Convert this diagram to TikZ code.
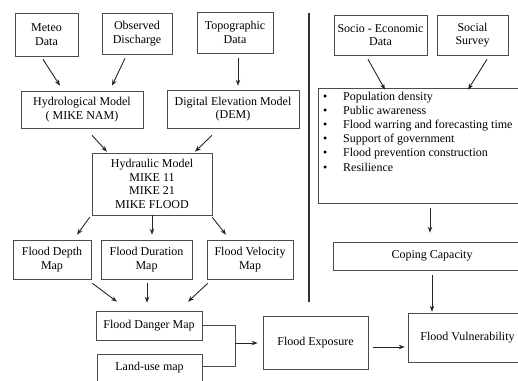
\documentclass[tikz,border=0pt]{standalone}
\usepackage{fontspec}
\setmainfont{Liberation Serif}
\usetikzlibrary{arrows.meta}

\tikzset{
	box/.style={draw=black!70, line width=0.6pt, align=center, inner sep=1pt, font=\fontsize{12}{13.7}\selectfont},
	link/.style={-{Stealth[length=6pt,width=4.5pt]}, line width=0.9pt, black!85},
}
\newcommand{\bulletitem}[1]{\makebox[20pt][l]{\textbullet}#1}

\begin{document}
\begin{tikzpicture}[x=1pt, y=-1pt]
	\useasboundingbox (0,0) rectangle (518,380);
	% hazard side
	\node[box, minimum width=63pt, minimum height=43pt] (meteo) at (46.5,34.5) {Meteo\\Data};
	\node[box, minimum width=70pt, minimum height=41pt] (observed) at (137,33.5) {Observed\\Discharge};
	\node[box, minimum width=76pt, minimum height=41pt] (topo) at (235,32.5) {Topographic\\Data};
	\node[box, minimum width=122pt, minimum height=37pt] (hydro) at (82,109.5) {Hydrological Model\\( MIKE NAM)};
	\node[box, minimum width=132pt, minimum height=38pt] (dem) at (233,109) {Digital Elevation Model\\(DEM)};
	\node[box, minimum width=120pt, minimum height=62pt] (hydraulic) at (152,184) {Hydraulic Model\\MIKE 11\\MIKE 21\\MIKE FLOOD};
	\node[box, minimum width=78pt, minimum height=39pt] (depth) at (52,259.5) {Flood Depth\\Map};
	\node[box, minimum width=91pt, minimum height=39pt] (duration) at (146.5,259.5) {Flood Duration\\Map};
	\node[box, minimum width=86pt, minimum height=39pt] (velocity) at (250,259.5) {Flood Velocity\\Map};
	\node[box, minimum width=106pt, minimum height=29pt] (danger) at (149,325.5) {Flood Danger Map};
	\node[box, minimum width=105pt, minimum height=28pt] (landuse) at (149.5,368) {Land-use map};
	\node[box, minimum width=105pt, minimum height=53pt] (exposure) at (315.5,342.5) {Flood Exposure};
	\node[box, minimum width=119pt, minimum height=49pt] (vulner) at (467.5,337.5) {Flood Vulnerability};
	% coping side
	\node[box, minimum width=93pt, minimum height=40pt] (socio) at (380.5,35) {Socio - Economic\\Data};
	\node[box, minimum width=71pt, minimum height=40pt] (survey) at (472.5,35) {Social\\Survey};
	\node[box, minimum width=212pt, minimum height=115pt] (factors) at (424,145.5) {};
	\node[anchor=north west, align=left, inner sep=0pt, font=\fontsize{12}{14.2}\selectfont] (factorlist) at (323,91.5)
		{\bulletitem{Population density}\\\bulletitem{Public awareness}\\\bulletitem{Flood warring and forecasting time}\\
		 \bulletitem{Support of government}\\\bulletitem{Flood prevention construction}\\\bulletitem{Resilience}};
	\node[box, minimum width=198pt, minimum height=28pt] (coping) at (432,256) {Coping Capacity};

	\draw[line width=1.2pt, black!80] (309,13) -- (309,302);

	\draw[link] ([xshift=-3.5pt,yshift=-3pt]meteo.south) -- ([xshift=-22pt,yshift=5pt]hydro.north);
	\draw[link] ([xshift=-12pt,yshift=-4pt]observed.south) -- ([xshift=30pt,yshift=5pt]hydro.north);
	\draw[link] ([xshift=3pt,yshift=-5pt]topo.south) -- ([xshift=5pt,yshift=4pt]dem.north);
	\draw[link] ([xshift=10pt,yshift=-7pt]hydro.south) -- ([xshift=-45pt,yshift=1pt]hydraulic.north);
	\draw[link] ([xshift=-21pt,yshift=-7pt]dem.south) -- ([xshift=43pt,yshift=1pt]hydraulic.north);
	\draw[link] ([xshift=-2pt,yshift=-2pt]hydraulic.south west) -- ([xshift=25pt,yshift=5pt]depth.north);
	\draw[link] (hydraulic.south) -- ([xshift=5.5pt,yshift=5pt]duration.north);
	\draw[link] ([yshift=-2pt]hydraulic.south east) -- ([xshift=-24pt,yshift=5pt]velocity.north);
	\draw[link] ([xshift=1pt,yshift=-4pt]depth.south east) -- ([xshift=-32pt,yshift=9pt]danger.north);
	\draw[link] ([xshift=0.5pt,yshift=-4pt]duration.south) -- ([xshift=-2pt,yshift=8pt]danger.north);
	\draw[link] ([xshift=1pt,yshift=-4pt]velocity.south west) -- ([xshift=39pt,yshift=9pt]danger.north);

	\coordinate (join) at (235,343);
	\draw[line width=0.6pt, black!70] (danger.east) -| (join);
	\draw[line width=0.6pt, black!70] ([yshift=2pt]landuse.east) -| (join);
	\draw[link] (join) -- ([xshift=-5pt,yshift=-0.5pt]exposure.west);
	\draw[link] ([xshift=5pt,yshift=-4.5pt]exposure.east) -- ([xshift=-3pt,yshift=-9.5pt]vulner.west);

	\draw[link] ([xshift=-12.5pt,yshift=-4pt]socio.south) -- ([xshift=-39pt,yshift=-2pt]factors.north);
	\draw[link] ([xshift=14.5pt,yshift=-4pt]survey.south) -- ([xshift=44pt,yshift=-2pt]factors.north);
	\draw[link] ([xshift=6pt,yshift=-5pt]factors.south) -- ([xshift=-2pt,yshift=9pt]coping.north);
	\draw[link] ([yshift=-5pt]coping.south) -- ([xshift=-35.5pt,yshift=1pt]vulner.north);
\end{tikzpicture}
\end{document}
